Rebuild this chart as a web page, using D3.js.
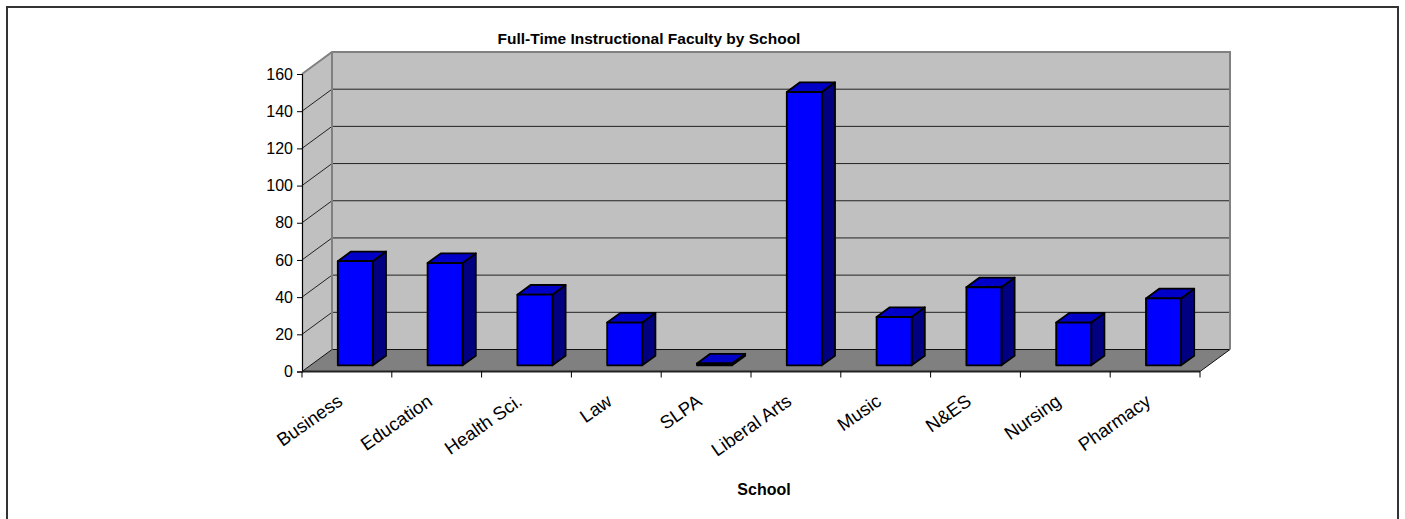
<!DOCTYPE html>
<html>
<head>
<meta charset="utf-8">
<script src="https://cdn.jsdelivr.net/npm/d3@7"></script>
<style>
  body { margin: 0; background: #fff; }
  svg { display: block; font-family: "Liberation Sans", Arial, sans-serif; }
</style>
</head>
<body>
<svg width="1405" height="519"></svg>
<script>
const schools = ["Business", "Education", "Health Sci.", "Law", "SLPA", "Liberal Arts", "Music", "N&ES", "Nursing", "Pharmacy"];
const faculty = [56, 55, 38, 23, 1, 147, 26, 42, 23, 36];
const yTicks = [0, 20, 40, 60, 80, 100, 120, 140, 160];

const svg = d3.select("svg");

// depth of the 3D box, and where the bars sit inside it
const DX = 30, DY = -22;
const D0 = 0.28, D1 = 0.72;

const xScale = d3.scaleBand().domain(schools).range([302, 1200]);
const yScale = d3.scaleLinear().domain([0, 160]).range([371.5, 74]);

// outer chart border
svg.append("path")
  .attr("d", "M7,530 V7 H1398 V530")
  .attr("fill", "none")
  .attr("stroke", "#333")
  .attr("stroke-width", 2);

const x0 = xScale.range()[0], x1 = xScale.range()[1];
const yBot = yScale(0), yTop = yScale(160);

// back wall
svg.append("rect")
  .attr("x", x0 + DX).attr("y", yTop + DY)
  .attr("width", x1 - x0).attr("height", yBot - yTop)
  .attr("fill", "#c0c0c0");

// side wall
svg.append("path")
  .attr("d", `M${x0},${yBot} L${x0},${yTop} L${x0 + DX},${yTop + DY} L${x0 + DX},${yBot + DY} Z`)
  .attr("fill", "#c0c0c0");

// floor
svg.append("path")
  .attr("d", `M${x0},${yBot} L${x0 + DX},${yBot + DY} L${x1 + DX},${yBot + DY} L${x1},${yBot} Z`)
  .attr("fill", "#808080")
  .attr("stroke", "#111")
  .attr("stroke-width", 1);

// gridlines on back and side walls
const grid = yTicks.filter((t) => t > 0 && t < 160);
svg.append("g")
  .selectAll("path")
  .data(grid)
  .enter()
  .append("path")
  .attr("d", function (d) {
    const y = yScale(d);
    return `M${x0},${y} L${x0 + DX},${y + DY} L${x1 + DX},${y + DY}`;
  })
  .attr("fill", "none")
  .attr("stroke", "#222")
  .attr("stroke-width", 1);

// wall edges (grey)
svg.append("path")
  .attr("d", `M${x0},${yTop} L${x0 + DX},${yTop + DY} L${x1 + DX},${yTop + DY} L${x1 + DX},${yBot + DY}`)
  .attr("fill", "none")
  .attr("stroke", "#808080")
  .attr("stroke-width", 2);
svg.append("line")
  .attr("x1", x0 + DX).attr("x2", x0 + DX)
  .attr("y1", yTop + DY).attr("y2", yBot + DY)
  .attr("stroke", "#808080")
  .attr("stroke-width", 2);

// bars
const bw = xScale.bandwidth() * 0.39;
const bars = svg.append("g")
  .selectAll("g")
  .data(schools.map((s, i) => ({ name: s, value: faculty[i] })))
  .enter()
  .append("g")
  .attr("stroke", "#000")
  .attr("stroke-width", 1.8)
  .attr("stroke-linejoin", "round");

function face(d, kind) {
  const l = xScale(d.name) + (xScale.bandwidth() - bw) / 2;
  const r = l + bw;
  const b = yScale(0), t = yScale(d.value);
  const ax = D0 * DX, ay = D0 * DY, bx = D1 * DX, by = D1 * DY;
  if (kind === "front") {
    return `M${l + ax},${b + ay} L${l + ax},${t + ay} L${r + ax},${t + ay} L${r + ax},${b + ay} Z`;
  }
  if (kind === "top") {
    return `M${l + ax},${t + ay} L${l + bx},${t + by} L${r + bx},${t + by} L${r + ax},${t + ay} Z`;
  }
  return `M${r + ax},${b + ay} L${r + ax},${t + ay} L${r + bx},${t + by} L${r + bx},${b + by} Z`;
}

bars.append("path").attr("d", (d) => face(d, "side")).attr("fill", "#000080");
bars.append("path").attr("d", (d) => face(d, "top")).attr("fill", "#0000c8");
bars.append("path").attr("d", (d) => face(d, "front")).attr("fill", "#0000ff");

// Y axis
const yAxis = svg.append("g")
  .attr("transform", `translate(${x0},0)`)
  .call(d3.axisLeft(yScale).tickValues(yTicks).tickSize(5).tickPadding(4));
yAxis.select(".domain").attr("stroke", "#000").attr("stroke-width", 1.2);
yAxis.selectAll(".tick line").attr("stroke", "#000");
yAxis.selectAll("text")
  .attr("fill", "#000")
  .style("font-size", "16px")
  .style("font-family", "Liberation Sans, Arial, sans-serif");

// X axis line and ticks at band boundaries
svg.append("line")
  .attr("x1", x0).attr("x2", x1)
  .attr("y1", yBot).attr("y2", yBot)
  .attr("stroke", "#222")
  .attr("stroke-width", 2);
const bounds = schools.map((s) => xScale(s)).concat([x1]);
svg.append("g")
  .selectAll("line")
  .data(bounds)
  .enter()
  .append("line")
  .attr("x1", (d) => d).attr("x2", (d) => d)
  .attr("y1", yBot).attr("y2", yBot + 6)
  .attr("stroke", "#000")
  .attr("stroke-width", 1);

// category labels
svg.append("g")
  .selectAll("text")
  .data(schools)
  .enter()
  .append("text")
  .attr("transform", (d) => `translate(${xScale(d) + xScale.bandwidth() / 2 - 3},404) rotate(-35)`)
  .attr("text-anchor", "end")
  .style("font-size", "18.5px")
  .text((d) => d);

// title
svg.append("text")
  .attr("x", 649)
  .attr("y", 44)
  .attr("text-anchor", "middle")
  .style("font-size", "15.5px")
  .style("font-weight", "bold")
  .text("Full-Time Instructional Faculty by School");

// X label
svg.append("text")
  .attr("x", 764)
  .attr("y", 495)
  .attr("text-anchor", "middle")
  .style("font-size", "16px")
  .style("font-weight", "bold")
  .text("School");
</script>
</body>
</html>
